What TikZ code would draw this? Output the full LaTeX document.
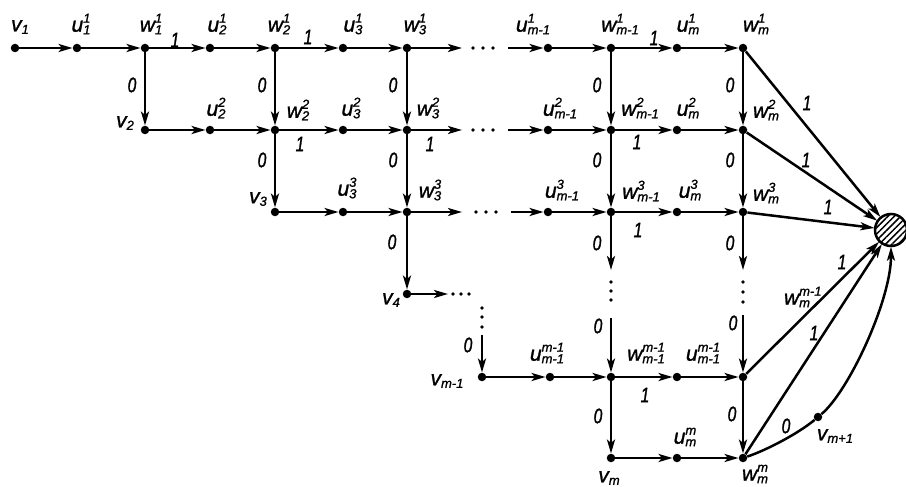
\documentclass[tikz,border=0pt]{standalone}
\usepackage{fontspec}
\newfontfamily\lf{Liberation Sans}[FakeBold=1.2]
\newfontfamily\cf{Liberation Sans}[FakeStretch=0.75,FakeBold=1.2]
\usetikzlibrary{arrows.meta,patterns.meta}
\newcommand\ssz[1]{{\fontsize{13}{13}\selectfont #1}}
\newcommand\lb[3]{#1\rlap{\raisebox{9pt}{\ssz{#3}}}\raisebox{-2.5pt}{\ssz{#2}}}
\begin{document}
\begin{tikzpicture}[x=1pt,y=-1pt,
  vtx/.style={circle,fill=black,inner sep=0pt,minimum size=8.5pt},
  gd/.style={circle,fill=black,inner sep=0pt,minimum size=3.8pt},
  lab/.style={font=\lf\itshape\fontsize{21}{24}\selectfont,inner sep=0pt},
  elab/.style={font=\cf\itshape\fontsize{21}{24}\selectfont,inner sep=0pt},
  arr/.style={line width=2.5pt,-{Stealth[length=14pt,width=8pt,inset=3.5pt]}},
  ln/.style={line width=2.5pt}]
\useasboundingbox (0,0) rectangle (906,487);
% vertices
\foreach \n/\x/\y in {v1/15/48,u11/77/48,w11/145/48,u21/210/48,w21/275/48,u31/343/48,w31/407/48,uA1/548/48,wA1/611/48,uB1/677/48,wB1/743/48,
 v2/145/130,u22/210/130,w22/275/130,u32/343/130,w32/407/130,uA2/548/130,wA2/611/130,uB2/677/130,wB2/743/130,
 v3/275/212,u33/343/212,w33/407/212,uA3/548/212,wA3/611/212,uB3/677/212,wB3/743/212,
 v4/407/294,
 vA/482/377,uAA/550/377,wAA/611/377,uBA/677/377,wBA/743/377,
 vB/611/458,uBB/677/458,wBB/743/458,vC/818/417}
  \node[vtx] (\n) at (\x,\y) {};
\node[circle,draw,line width=2.5pt,minimum size=32pt,inner sep=0pt,
  pattern={Lines[angle=45,distance=4.5pt,line width=1.5pt]}] (sink) at (891,230) {};
% gap coordinates
\foreach \n/\x/\y in {g1a/462/48,g1b/508/48,g2a/462/130,g2b/508/130,g3a/462/212,g3b/511/212,
 g4/448/294,gc/482/335,gAa/611/270,gAb/611/318,gBa/743/270,gBb/743/315}
  \coordinate (\n) at (\x,\y);
% gap dots
\foreach \n/\x/\y in {d11/473/48,d12/483/48,d13/493/48,d21/473/130,d22/483/130,d23/493/130,
 d31/476/212,d32/486/212,d33/496/212,d41/453/294,d42/461/294,d43/469/294,
 dc1/482/308,dc2/482/317,dc3/482/327,dA1/611/282,dA2/611/291,dA3/611/300,
 dB1/743/282,dB2/743/292,dB3/743/302}
  \node[gd] (\n) at (\x,\y) {};
% horizontal edges
\foreach \a/\b in {v1/u11,u11/w11,w11/u21,u21/w21,w21/u31,u31/w31,w31/g1a,g1b/uA1,uA1/wA1,wA1/uB1,uB1/wB1,
 v2/u22,u22/w22,w22/u32,u32/w32,w32/g2a,g2b/uA2,uA2/wA2,wA2/uB2,uB2/wB2,
 v3/u33,u33/w33,w33/g3a,g3b/uA3,uA3/wA3,wA3/uB3,uB3/wB3,
 v4/g4,vA/uAA,uAA/wAA,wAA/uBA,uBA/wBA,vB/uBB,uBB/wBB}
  \draw[arr] (\a) -- (\b);
% vertical edges
\foreach \a/\b in {w11/v2,w21/w22,w22/v3,w31/w32,w32/w33,w33/v4,gc/vA,
 wA1/wA2,wA2/wA3,wA3/gAa,gAb/wAA,wAA/vB,
 wB1/wB2,wB2/wB3,wB3/gBa,gBb/wBA,wBA/wBB}
  \draw[arr] (\a) -- (\b);
% edges to sink
\foreach \a in {wB1,wB2,wB3,wBA,wBB}
  \draw[arr] (\a) -- (sink);
\draw[ln] (wBB) .. controls (767,450) and (799,433) .. (vC);
\draw[arr] (vC) .. controls (849,391) and (891,300) .. (sink.south);
% vertex labels
\node[lab] (L1) at (20,27) {\lb{v}{1}{}};
\node[lab] (L2) at (81,24) {\lb{u}{1}{1}};
\node[lab] (L3) at (151,24) {\lb{w}{1}{1}};
\node[lab] (L4) at (217,24) {\lb{u}{2}{1}};
\node[lab] (L5) at (279,24) {\lb{w}{2}{1}};
\node[lab] (L6) at (353,24) {\lb{u}{3}{1}};
\node[lab] (L7) at (415,24) {\lb{w}{3}{1}};
\node[lab] (L8) at (533,24) {\lb{u}{m-1}{1}};
\node[lab] (L9) at (620,24) {\lb{w}{m-1}{1}};
\node[lab] (L10) at (688,24) {\lb{u}{m}{1}};
\node[lab] (L11) at (756,24) {\lb{w}{m}{1}};
\node[lab] (L12) at (125,123) {\lb{v}{2}{}};
\node[lab] (L13) at (216,108) {\lb{u}{2}{2}};
\node[lab] (L14) at (298,110) {\lb{w}{2}{2}};
\node[lab] (L15) at (351,108) {\lb{u}{3}{2}};
\node[lab] (L16) at (428,108) {\lb{w}{3}{2}};
\node[lab] (L17) at (560,108) {\lb{u}{m-1}{2}};
\node[lab] (L18) at (640,108) {\lb{w}{m-1}{2}};
\node[lab] (L19) at (688,108) {\lb{u}{m}{2}};
\node[lab] (L20) at (766,110) {\lb{w}{m}{2}};
\node[lab] (L21) at (258,199) {\lb{v}{3}{}};
\node[lab] (L22) at (347,188) {\lb{u}{3}{3}};
\node[lab] (L23) at (430,190) {\lb{w}{3}{3}};
\node[lab] (L24) at (562,190) {\lb{u}{m-1}{3}};
\node[lab] (L25) at (641,191) {\lb{w}{m-1}{3}};
\node[lab] (L26) at (690,190) {\lb{u}{m}{3}};
\node[lab] (L27) at (766,193) {\lb{w}{m}{3}};
\node[lab] (L28) at (391,300) {\lb{v}{4}{}};
\node[lab] (L29) at (447,381) {\lb{v}{m-1}{}};
\node[lab] (L30) at (547,353) {\lb{u}{m-1}{m-1}};
\node[lab] (L31) at (646,353) {\lb{w}{m-1}{m-1}};
\node[lab] (L32) at (703,353) {\lb{u}{m-1}{m-1}};
\node[lab] (L33) at (797,297) {\lb{w}{m}{m-1}};
\node[lab] (L34) at (609,478) {\lb{v}{m}{}};
\node[lab] (L35) at (685,437) {\lb{u}{m}{m}};
\node[lab] (L36) at (755,474) {\lb{w}{m}{m}};
\node[lab] (L37) at (835,436) {\lb{v}{m+1}{}};
% edge labels 1
\foreach \x/\y [count=\i] in {175/40,308/37,654/38,300/144,430/144,637/142,638/230,645/395,
 807/103,806/160,828/207,842/262,814/333}
  \node[elab] (E1-\i) at (\x,\y) {1};
% edge labels 0
\foreach \x/\y [count=\i] in {132/85,262/85,262/160,393/85,393/160,392/242,597/85,597/160,597/243,598/326,598/416,
 730/85,730/160,730/243,733/323,732/414,468/345,786/426}
  \node[elab] (E0-\i) at (\x,\y) {0};
\end{tikzpicture}
\end{document}
